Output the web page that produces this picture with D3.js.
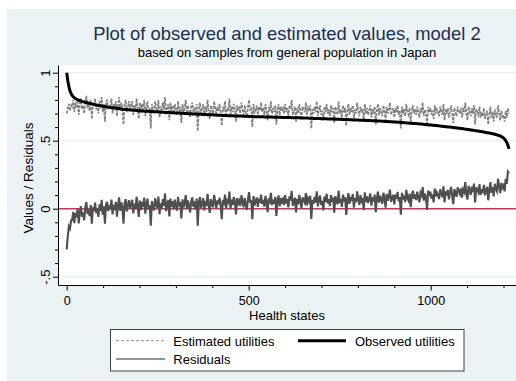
<!DOCTYPE html>
<html><head><meta charset="utf-8">
<script src="https://cdn.jsdelivr.net/npm/d3@7/dist/d3.min.js"></script>
<style>
body{margin:0;background:#fff}
svg{display:block;font-family:"Liberation Sans",Arial,Helvetica,sans-serif}
</style>
</head><body>
<svg id="chart" width="516" height="381"></svg>
<script>
// ---- data (health states sampled every 3rd state, 0..1215) ----
const stateStep = 3;
const estimated = [
.70,.74,.77,.72,.76,.75,.80,.71,.78,.74,.80,.69,.77,.81,.73,.76,.70,.79,.83,.74,
.77,.72,.80,.66,.78,.75,.81,.73,.76,.70,.79,.74,.82,.71,.77,.64,.78,.80,.73,.76,
.75,.81,.70,.77,.73,.79,.68,.76,.82,.72,.78,.74,.62,.77,.80,.71,.75,.79,.73,.76,
.79,.69,.76,.72,.81,.74,.66,.78,.71,.77,.73,.80,.68,.75,.79,.71,.74,.59,.77,.73,
.70,.79,.74,.72,.80,.67,.75,.71,.78,.73,.82,.69,.74,.77,.65,.78,.72,.76,.70,.77,
.73,.69,.79,.72,.75,.63,.77,.71,.74,.80,.70,.76,.72,.67,.75,.78,.71,.73,.69,.77,
.57,.74,.78,.70,.73,.77,.68,.75,.71,.80,.72,.66,.76,.73,.70,.79,.74,.69,.75,.72,
.77,.71,.61,.75,.73,.79,.69,.74,.72,.81,.68,.75,.71,.77,.73,.64,.76,.72,.74,.70,
.78,.73,.69,.76,.71,.67,.75,.80,.72,.74,.60,.77,.70,.73,.76,.69,.75,.72,.78,.71,
.74,.69,.77,.72,.65,.75,.73,.79,.70,.74,.71,.76,.62,.73,.77,.69,.75,.72,.74,.70,
.77,.71,.74,.68,.76,.73,.80,.69,.72,.75,.64,.74,.70,.77,.72,.67,.75,.73,.71,.78,
.69,.74,.72,.76,.59,.73,.70,.75,.71,.79,.68,.73,.76,.69,.72,.65,.75,.71,.77,.70,
.73,.68,.76,.71,.74,.63,.75,.72,.69,.79,.70,.73,.67,.76,.71,.74,.61,.72,.77,.69,
.74,.71,.76,.66,.73,.70,.78,.72,.68,.75,.71,.73,.64,.77,.70,.74,.69,.72,.76,.67,
.73,.70,.75,.62,.72,.77,.69,.74,.71,.68,.76,.72,.65,.75,.70,.73,.78,.69,.72,.74,
.67,.74,.71,.76,.69,.72,.59,.75,.70,.73,.68,.77,.71,.69,.74,.64,.72,.76,.70,.73,
.69,.75,.71,.67,.74,.72,.78,.68,.73,.70,.61,.75,.71,.74,.69,.72,.66,.76,.70,.73,
.71,.68,.75,.72,.69,.77,.65,.73,.70,.74,.67,.72,.76,.69,.63,.74,.71,.68,.75,.72,
.70,.74,.67,.73,.71,.78,.69,.65,.75,.72,.68,.74,.70,.76,.62,.73,.71,.69,.75,.67,
.71,.68,.74,.66,.70,.72,.62,.69,.75,.67,.71,.64,.73,.69,.67,.76,.70,.65,.72,.68,
.69,.64,.72,.67,.74,.70
];
const observed = [
1.000,.940,.900,.866,.847,.833,.823,.816,.810,.805,.801,.798,.795,.792,.789,.787,.785,.783,.781,.779,
.777,.775,.773,.771,.769,.767,.765,.763,.761,.760,.758,.757,.755,.754,.752,.751,.750,.749,.747,.746,
.744,.743,.742,.741,.740,.739,.738,.737,.736,.735,.733,.732,.731,.730,.730,.729,.728,.727,.726,.726,
.725,.724,.723,.723,.722,.721,.721,.720,.719,.719,.718,.718,.717,.717,.716,.716,.715,.715,.714,.714,
.713,.713,.712,.712,.711,.711,.710,.710,.709,.709,.708,.708,.708,.707,.707,.706,.706,.705,.705,.704,
.704,.704,.703,.703,.702,.702,.701,.701,.700,.700,.700,.699,.699,.698,.698,.697,.697,.696,.696,.695,
.695,.695,.694,.694,.693,.693,.693,.692,.692,.691,.691,.691,.690,.690,.690,.689,.689,.688,.688,.688,
.688,.687,.687,.686,.686,.686,.685,.685,.684,.684,.684,.683,.683,.683,.682,.682,.682,.681,.681,.681,
.681,.680,.680,.680,.679,.679,.679,.678,.678,.678,.678,.677,.677,.677,.677,.676,.676,.676,.676,.676,
.676,.675,.675,.675,.675,.674,.674,.674,.674,.673,.673,.673,.673,.672,.672,.672,.672,.671,.671,.671,
.671,.671,.670,.670,.670,.670,.669,.669,.669,.669,.668,.668,.668,.668,.667,.667,.667,.667,.666,.666,
.666,.666,.665,.665,.665,.665,.664,.664,.664,.663,.663,.663,.663,.662,.662,.662,.661,.661,.661,.660,
.660,.660,.660,.659,.659,.659,.658,.658,.658,.657,.657,.657,.656,.656,.656,.656,.655,.655,.655,.654,
.654,.654,.653,.653,.653,.652,.652,.652,.651,.651,.651,.650,.650,.650,.649,.649,.648,.648,.648,.647,
.647,.647,.646,.646,.645,.645,.645,.644,.644,.643,.643,.642,.642,.641,.641,.640,.640,.639,.639,.638,
.638,.637,.637,.636,.636,.635,.634,.634,.633,.632,.632,.631,.631,.630,.629,.629,.628,.627,.627,.626,
.626,.625,.624,.623,.623,.622,.621,.620,.619,.619,.618,.617,.616,.615,.615,.614,.613,.612,.611,.611,
.610,.609,.608,.607,.606,.605,.604,.603,.602,.601,.601,.600,.599,.598,.597,.596,.595,.594,.593,.592,
.591,.590,.589,.588,.587,.585,.584,.583,.582,.581,.579,.578,.577,.576,.574,.573,.572,.571,.569,.568,
.567,.565,.564,.562,.561,.559,.558,.556,.555,.553,.551,.549,.547,.545,.543,.540,.538,.535,.530,.526,
.520,.512,.500,.487,.468,.440
];
const xMajorTicks = [0, 500, 1000];
const xMinorTicks = [100, 200, 300, 400, 600, 700, 800, 900, 1100, 1200];
const yMajorTicks = [-0.5, 0, 0.5, 1];
const yTickLabels = ["-.5", "0", ".5", "1"];
const yMinorTicks = [-0.4, -0.3, -0.2, -0.1, 0.1, 0.2, 0.3, 0.4, 0.6, 0.7, 0.8, 0.9];
const titleText = "Plot of observed and estimated values, model 2";
const subtitleText = "based on samples from general population in Japan";
const xTitle = "Health states";
const yTitle = "Values / Residuals";
const legendLabels = ["Estimated utilities", "Observed utilities", "Residuals"];

// ---- build rows (residual = estimated - observed) ----
const rows = estimated.map((e, i) => ({
  state: i * stateStep, est: e, obs: observed[i], res: e - observed[i]
}));

const svg = d3.select("#chart");
const W = 516, H = 381;
const P = {l: 58, r: 516, t: 65, b: 285};

// backgrounds
svg.append("rect").attr("x", 7).attr("y", 9).attr("width", W - 7).attr("height", H - 9).attr("fill", "#eaf2f3");
svg.append("rect").attr("x", P.l).attr("y", P.t).attr("width", P.r - P.l).attr("height", P.b - P.t).attr("fill", "#fff");

const x = d3.scaleLinear().domain([-23.9, 1234.3]).range([P.l, P.r]);
const y = d3.scaleLinear().domain([-0.561, 1.0566]).range([P.b, P.t]);

// gridlines
svg.append("g").selectAll("line").data(yMajorTicks).join("line")
  .attr("x1", P.l).attr("x2", P.r).attr("y1", d => y(d)).attr("y2", d => y(d))
  .attr("stroke", "#eaf2f3").attr("stroke-width", 1.5);

svg.append("clipPath").attr("id", "clip").append("rect")
  .attr("x", P.l).attr("y", P.t).attr("width", P.r - P.l).attr("height", P.b - P.t);
const plot = svg.append("g").attr("clip-path", "url(#clip)");

// reference line at 0
plot.append("line").attr("x1", P.l).attr("x2", P.r).attr("y1", y(0)).attr("y2", y(0))
  .attr("stroke", "#c0395c").attr("stroke-width", 1.5);

const lineOf = key => d3.line().x(d => x(d.state)).y(d => y(d[key]));

plot.append("path").datum(rows).attr("d", lineOf("est"))
  .attr("fill", "none").attr("stroke", "#828282").attr("stroke-width", 1.7)
  .attr("stroke-dasharray", "3,1.2");
plot.append("path").datum(rows).attr("d", lineOf("obs"))
  .attr("fill", "none").attr("stroke", "#000").attr("stroke-width", 3)
  .attr("stroke-linejoin", "round");
plot.append("path").datum(rows).attr("d", lineOf("res"))
  .attr("fill", "none").attr("stroke", "#4f4f4f").attr("stroke-width", 2.1);

// axes
const fs = 12.5;
const yAxis = svg.append("g").attr("transform", `translate(${P.l},0)`)
  .call(d3.axisLeft(y).tickValues(yMajorTicks).tickSize(5).tickSizeOuter(0)
    .tickFormat((d, i) => yTickLabels[i]));
yAxis.selectAll("text").attr("transform", "rotate(-90)").attr("x", 0).attr("y", -8)
  .attr("dy", 0).attr("text-anchor", "middle").attr("font-size", 13).attr("fill", "#000");
svg.append("g").attr("transform", `translate(${P.l},0)`)
  .call(d3.axisLeft(y).tickValues(yMinorTicks).tickSize(3).tickSizeOuter(0).tickFormat(""))
  .select(".domain").remove();

const xAxis = svg.append("g").attr("transform", `translate(0,${P.b})`)
  .call(d3.axisBottom(x).tickValues(xMajorTicks).tickSize(5.5).tickSizeOuter(0).tickFormat(d3.format("d")));
xAxis.selectAll("text").attr("y", 20).attr("dy", 0).attr("font-size", fs).attr("fill", "#000");
svg.append("g").attr("transform", `translate(0,${P.b})`)
  .call(d3.axisBottom(x).tickValues(xMinorTicks).tickSize(3).tickSizeOuter(0).tickFormat(""))
  .select(".domain").remove();
svg.selectAll(".domain, .tick line").attr("stroke", "#000");

// titles
const cx = (P.l + P.r) / 2;
svg.append("text").attr("x", cx).attr("y", 40).attr("text-anchor", "middle")
  .attr("font-size", 18.4).attr("fill", "#1c2e54").text(titleText);
svg.append("text").attr("x", cx).attr("y", 57).attr("text-anchor", "middle")
  .attr("font-size", 13).attr("fill", "#000").text(subtitleText);
svg.append("text").attr("x", cx).attr("y", 319.5).attr("text-anchor", "middle")
  .attr("font-size", 13).attr("fill", "#000").text(xTitle);
svg.append("text").attr("transform", `translate(33,${(P.t + P.b) / 2 + 3}) rotate(-90)`)
  .attr("text-anchor", "middle").attr("font-size", 13.5).attr("fill", "#000").text(yTitle);

// legend
const lg = svg.append("g");
lg.append("rect").attr("x", 110.5).attr("y", 329.5).attr("width", 353.5).attr("height", 41.5)
  .attr("fill", "#fff").attr("stroke", "#404040").attr("stroke-width", 1);
const items = [
  {x1: 116, x2: 165, y: 340.7, tx: 173.3, ty: 345.5, stroke: "#909090", w: 1, dash: "3,2", label: legendLabels[0]},
  {x1: 298, x2: 346, y: 340.7, tx: 355, ty: 345.5, stroke: "#000", w: 3, dash: null, label: legendLabels[1]},
  {x1: 116, x2: 165, y: 359, tx: 173.3, ty: 364.3, stroke: "#707070", w: 1.3, dash: null, label: legendLabels[2]}
];
items.forEach(it => {
  lg.append("line").attr("x1", it.x1).attr("x2", it.x2).attr("y1", it.y).attr("y2", it.y)
    .attr("stroke", it.stroke).attr("stroke-width", it.w).attr("stroke-dasharray", it.dash);
  lg.append("text").attr("x", it.tx).attr("y", it.ty).attr("font-size", 13).attr("fill", "#000").text(it.label);
});
</script>
</body></html>
